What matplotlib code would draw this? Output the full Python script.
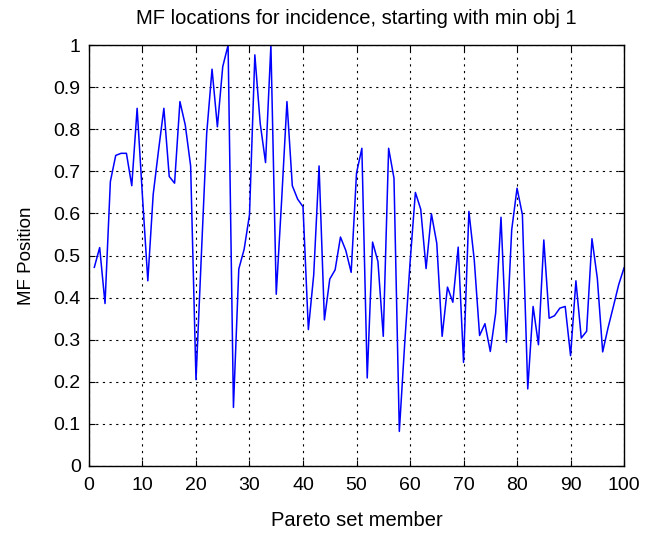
import matplotlib
matplotlib.use("Agg")
import matplotlib.pyplot as plt
import numpy as np

plt.rcParams['font.family'] = ['Liberation Sans', 'DejaVu Sans']

# MF position for each Pareto set member
member = np.arange(1, 101)
mf_position = [
    0.472, 0.519, 0.386, 0.676, 0.738, 0.743, 0.743, 0.666, 0.850, 0.640,
    0.440, 0.645, 0.750, 0.850, 0.688, 0.672, 0.866, 0.810, 0.713, 0.205,
    0.500, 0.790, 0.943, 0.806, 0.949, 1.000, 0.139, 0.468, 0.515, 0.597,
    0.977, 0.814, 0.721, 1.000, 0.408, 0.630, 0.866, 0.666, 0.634, 0.616,
    0.324, 0.454, 0.713, 0.347, 0.444, 0.466, 0.544, 0.512, 0.460, 0.696,
    0.755, 0.209, 0.532, 0.486, 0.308, 0.755, 0.684, 0.082, 0.290, 0.482,
    0.650, 0.610, 0.469, 0.599, 0.529, 0.308, 0.425, 0.389, 0.520, 0.246,
    0.605, 0.490, 0.310, 0.338, 0.272, 0.363, 0.591, 0.294, 0.561, 0.660,
    0.597, 0.183, 0.379, 0.288, 0.537, 0.351, 0.357, 0.375, 0.379, 0.262,
    0.440, 0.304, 0.320, 0.540, 0.446, 0.271, 0.328, 0.379, 0.431, 0.471,
]

xticks = np.arange(0, 101, 10)
yticks = np.round(np.arange(0, 1.01, 0.1), 1)
ytick_labels = ['0', '0.1', '0.2', '0.3', '0.4', '0.5', '0.6', '0.7', '0.8', '0.9', '1']

fig = plt.figure(figsize=(6.59, 5.38), dpi=100)
ax = fig.add_axes([0.135, 0.134, 0.812, 0.782])

ax.plot(member, mf_position, color='#0000ff', linewidth=1.1)

ax.set_xlim(0, 100)
ax.set_ylim(0, 1)
ax.set_xticks(xticks)
ax.set_yticks(yticks)
ax.set_yticklabels(ytick_labels)
ax.tick_params(direction='in', top=True, right=True, labelsize=14, length=4)
ax.tick_params(axis='x', pad=8)
ax.tick_params(axis='y', pad=6)
ax.grid(True, color='black', linestyle=(0, (2, 4)), linewidth=0.8)

for s in ax.spines.values():
    s.set_linewidth(1.0)

ax.set_title('MF locations for incidence, starting with min obj 1', fontsize=14.5, pad=15)
ax.set_xlabel('Pareto set member', fontsize=14.5, labelpad=12)
ax.set_ylabel('MF Position', fontsize=13.5, labelpad=13)

fig.savefig('out.png', dpi=100)
